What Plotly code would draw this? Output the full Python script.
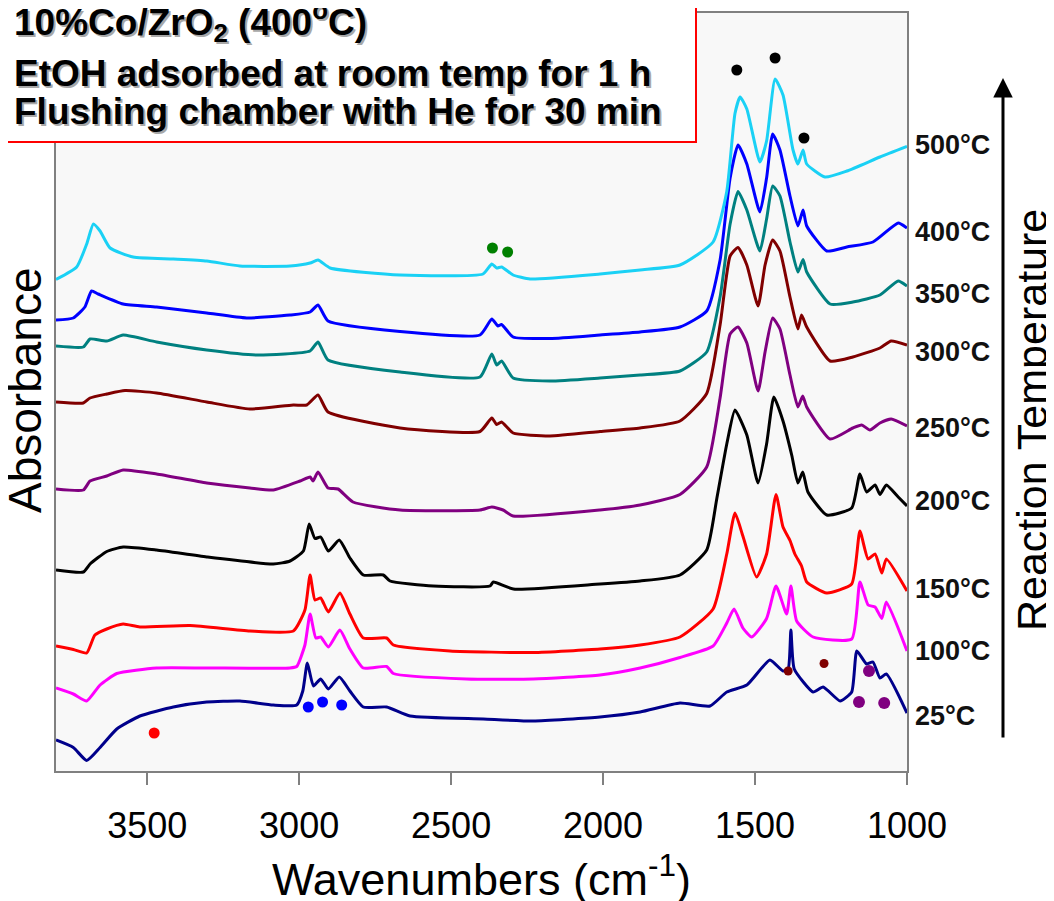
import plotly.graph_objects as go

# ---- data: wavenumber (cm-1) and absorbance (a.u., stacked) for each temperature ----
wn_25 = [3800, 3743, 3699, 3655, 3600, 3524, 3414, 3304, 3195, 3085, 3008, 2988, 2973, 2953, 2929, 2904, 2868, 2833, 2789, 2712, 2635, 2394, 2230, 2010, 1878, 1747, 1648, 1593, 1527, 1451, 1408, 1391, 1382, 1371, 1309, 1276, 1220, 1182, 1165, 1133, 1112, 1089, 1068, 1000]
ab_25 = [0.31, 0.235, 0.105, 0.235, 0.42, 0.55, 0.64, 0.69, 0.70, 0.66, 0.66, 0.80, 1.08, 0.85, 0.92, 0.82, 0.94, 0.80, 0.64, 0.64, 0.55, 0.52, 0.50, 0.54, 0.59, 0.68, 0.65, 0.79, 0.86, 1.11, 1.00, 1.02, 1.41, 1.02, 0.79, 0.84, 0.70, 0.79, 1.20, 1.07, 1.09, 0.93, 0.97, 0.58]

wn_100 = [3800, 3743, 3699, 3655, 3600, 3469, 3304, 3030, 3008, 2981, 2964, 2945, 2929, 2904, 2866, 2833, 2789, 2712, 2690, 2449, 2230, 2010, 1878, 1747, 1638, 1593, 1569, 1540, 1511, 1462, 1431, 1396, 1382, 1363, 1309, 1182, 1155, 1128, 1105, 1083, 1068, 1000]
ab_100 = [0.83, 0.77, 0.70, 0.86, 0.975, 1.03, 1.03, 1.03, 1.045, 1.26, 1.57, 1.33, 1.34, 1.24, 1.41, 1.22, 1.03, 1.045, 0.975, 0.92, 0.92, 0.96, 1.03, 1.135, 1.25, 1.48, 1.62, 1.43, 1.34, 1.525, 1.85, 1.57, 1.85, 1.50, 1.34, 1.32, 1.89, 1.66, 1.64, 1.525, 1.69, 1.20]

wn_150 = [3800, 3743, 3699, 3672, 3633, 3579, 3524, 3359, 3162, 3019, 2981, 2964, 2948, 2929, 2904, 2866, 2833, 2789, 2712, 2690, 2504, 2230, 2010, 1878, 1747, 1638, 1593, 1566, 1540, 1495, 1462, 1431, 1408, 1385, 1369, 1347, 1330, 1264, 1182, 1155, 1128, 1105, 1083, 1068, 1000]
ab_150 = [1.25, 1.215, 1.18, 1.36, 1.42, 1.47, 1.44, 1.455, 1.40, 1.40, 1.61, 1.96, 1.71, 1.73, 1.59, 1.78, 1.57, 1.33, 1.33, 1.26, 1.20, 1.185, 1.22, 1.26, 1.34, 1.62, 2.17, 2.58, 2.35, 1.94, 2.17, 2.765, 2.44, 2.305, 2.17, 2.05, 1.89, 1.78, 1.87, 2.40, 2.12, 2.17, 1.98, 2.12, 1.80]

wn_200 = [3800, 3710, 3688, 3633, 3579, 3469, 3304, 3085, 3030, 2986, 2967, 2948, 2929, 2904, 2868, 2833, 2789, 2723, 2701, 2559, 2372, 2361, 2295, 2010, 1878, 1747, 1659, 1626, 1593, 1566, 1527, 1490, 1462, 1438, 1408, 1379, 1359, 1343, 1326, 1264, 1182, 1155, 1133, 1105, 1089, 1068, 1029, 1000]
ab_200 = [2.01, 1.99, 2.07, 2.195, 2.24, 2.21, 2.14, 2.07, 2.10, 2.20, 2.47, 2.325, 2.34, 2.20, 2.31, 2.13, 1.96, 1.96, 1.90, 1.85, 1.85, 1.89, 1.82, 1.87, 1.90, 1.96, 2.21, 2.72, 3.27, 3.61, 3.36, 2.88, 3.27, 3.74, 3.50, 3.155, 2.88, 2.99, 2.79, 2.56, 2.63, 2.97, 2.79, 2.86, 2.765, 2.86, 2.74, 2.65]

wn_250 = [3800, 3710, 3688, 3633, 3579, 3469, 3304, 3162, 3085, 2997, 2964, 2954, 2938, 2905, 2872, 2823, 2668, 2405, 2366, 2329, 2296, 2010, 1878, 1747, 1659, 1615, 1582, 1556, 1527, 1490, 1467, 1442, 1418, 1385, 1359, 1343, 1330, 1253, 1178, 1149, 1122, 1089, 1052, 1000]
ab_250 = [2.82, 2.81, 2.90, 2.95, 3.01, 2.97, 2.88, 2.83, 2.81, 2.90, 2.94, 2.90, 2.99, 2.83, 2.82, 2.69, 2.61, 2.61, 2.64, 2.61, 2.55, 2.61, 2.66, 2.765, 3.04, 3.73, 4.37, 4.44, 4.28, 3.80, 4.19, 4.53, 4.42, 3.96, 3.64, 3.75, 3.64, 3.32, 3.43, 3.46, 3.41, 3.48, 3.52, 3.45]

wn_300 = [3800, 3710, 3688, 3633, 3573, 3469, 3304, 3162, 3019, 2975, 2938, 2905, 2668, 2405, 2366, 2350, 2334, 2296, 2175, 2010, 1878, 1747, 1659, 1615, 1582, 1556, 1527, 1490, 1467, 1442, 1418, 1385, 1359, 1347, 1330, 1253, 1178, 1089, 1052, 1000]
ab_300 = [3.69, 3.68, 3.73, 3.77, 3.805, 3.78, 3.69, 3.62, 3.66, 3.66, 3.76, 3.59, 3.43, 3.395, 3.53, 3.465, 3.49, 3.38, 3.35, 3.395, 3.43, 3.50, 3.775, 4.46, 5.15, 5.235, 5.06, 4.65, 5.06, 5.31, 5.20, 4.74, 4.42, 4.56, 4.44, 4.10, 4.14, 4.23, 4.30, 4.26]

wn_350 = [3800, 3710, 3688, 3633, 3579, 3469, 3304, 3140, 2964, 2938, 2905, 2668, 2405, 2366, 2350, 2334, 2296, 2175, 2010, 1878, 1747, 1659, 1615, 1582, 1556, 1527, 1484, 1462, 1442, 1418, 1385, 1359, 1342, 1330, 1253, 1178, 1089, 1029, 1000]
ab_350 = [4.25, 4.24, 4.32, 4.30, 4.36, 4.29, 4.21, 4.16, 4.20, 4.29, 4.11, 3.99, 3.94, 4.17, 4.06, 4.10, 3.93, 3.90, 3.93, 3.96, 4.00, 4.19, 4.74, 5.47, 5.795, 5.61, 5.20, 5.52, 5.85, 5.75, 5.29, 4.99, 5.115, 4.99, 4.67, 4.69, 4.76, 4.90, 4.85]

wn_400 = [3800, 3743, 3705, 3683, 3661, 3579, 3469, 3304, 3173, 3030, 2964, 2938, 2905, 2668, 2405, 2366, 2346, 2334, 2296, 2175, 2010, 1878, 1747, 1659, 1615, 1582, 1556, 1527, 1484, 1462, 1442, 1418, 1385, 1359, 1342, 1330, 1264, 1198, 1112, 1029, 1000]
ab_400 = [4.51, 4.53, 4.64, 4.80, 4.77, 4.67, 4.64, 4.58, 4.53, 4.56, 4.59, 4.66, 4.50, 4.395, 4.36, 4.52, 4.45, 4.465, 4.34, 4.325, 4.36, 4.39, 4.44, 4.60, 5.11, 5.93, 6.26, 6.07, 5.59, 5.93, 6.37, 6.21, 5.75, 5.45, 5.61, 5.45, 5.20, 5.24, 5.29, 5.48, 5.43]

wn_500 = [3800, 3732, 3699, 3677, 3655, 3622, 3546, 3414, 3304, 3195, 3030, 2964, 2938, 2898, 2668, 2395, 2366, 2350, 2334, 2296, 2240, 2010, 1878, 1747, 1638, 1593, 1566, 1549, 1527, 1484, 1462, 1434, 1408, 1375, 1359, 1342, 1330, 1270, 1198, 1089, 1000]
ab_500 = [4.915, 5.04, 5.27, 5.47, 5.40, 5.23, 5.14, 5.12, 5.10, 5.05, 5.05, 5.08, 5.11, 5.03, 4.96, 4.97, 5.07, 5.03, 5.04, 4.96, 4.92, 4.97, 5.01, 5.06, 5.29, 5.795, 6.575, 6.74, 6.62, 6.09, 6.30, 6.92, 6.76, 6.21, 6.07, 6.21, 6.07, 5.94, 6.00, 6.14, 6.245]

temps = ["25°C", "100°C", "150°C", "200°C", "250°C", "300°C", "350°C", "400°C", "500°C"]
colors = ["#00008B", "#FF00FF", "#FF0000", "#000000", "#800080", "#800000", "#008080", "#0000FF", "#1AD1F5"]
series_wn = [wn_25, wn_100, wn_150, wn_200, wn_250, wn_300, wn_350, wn_400, wn_500]
series_ab = [ab_25, ab_100, ab_150, ab_200, ab_250, ab_300, ab_350, ab_400, ab_500]

# peak marker dots (wavenumber, absorbance)
dot_black_wn = [1560, 1434, 1339]
dot_black_ab = [7.01, 7.13, 6.33]
dot_green_wn = [2364, 2314]
dot_green_ab = [5.23, 5.19]
dot_blue_wn = [2970, 2923, 2860]
dot_blue_ab = [0.64, 0.69, 0.66]
dot_red_wn = [3477]
dot_red_ab = [0.38]
dot_maroon_wn = [1391, 1273]
dot_maroon_ab = [1.00, 1.075]
dot_purple_wn = [1125, 1158, 1075]
dot_purple_ab = [1.00, 0.69, 0.68]

xticks = [3500, 3000, 2500, 2000, 1500, 1000]

# label vertical positions (paper fractions) for temperature labels
label_y = [0.0726, 0.1577, 0.2401, 0.3562, 0.4525, 0.5528, 0.6293, 0.7111, 0.8259]

FONT = "Liberation Sans, Arial, sans-serif"
OFF = 8  # page body margin offset

fig = go.Figure()
for wn, ab, c, t in zip(series_wn, series_ab, colors, temps):
    fig.add_trace(go.Scatter(x=wn, y=ab, mode="lines", name=t,
                             line=dict(color=c, width=3, shape="spline", smoothing=0.5),
                             showlegend=False, hoverinfo="skip"))

for xs, ys, c, s in [(dot_black_wn, dot_black_ab, "#000000", 11),
                     (dot_green_wn, dot_green_ab, "#008000", 11),
                     (dot_blue_wn, dot_blue_ab, "#0000FF", 11),
                     (dot_red_wn, dot_red_ab, "#FF0000", 11),
                     (dot_maroon_wn, dot_maroon_ab, "#800000", 9),
                     (dot_purple_wn, dot_purple_ab, "#800080", 12)]:
    fig.add_trace(go.Scatter(x=xs, y=ys, mode="markers",
                             marker=dict(color=c, size=s, line=dict(width=0)),
                             showlegend=False, hoverinfo="skip"))

annotations = []
for t, yp in zip(temps, label_y):
    annotations.append(dict(xref="paper", yref="paper", x=1.0071, y=yp, text=t,
                            showarrow=False, xanchor="left", yanchor="middle",
                            font=dict(family=FONT, size=27, color="#111111", weight="bold")))

# axis titles
annotations.append(dict(xref="paper", yref="paper", x=0.5, y=(771 - 876) / 758,
                        text="Wavenumbers (cm<sup>-1</sup>)", showarrow=False,
                        xanchor="center", yanchor="middle",
                        font=dict(family=FONT, size=45, color="#000000")))
annotations.append(dict(xref="paper", yref="paper", x=(25 - 56) / 851, y=0.5026,
                        text="Absorbance", showarrow=False, textangle=-90,
                        xanchor="center", yanchor="middle",
                        font=dict(family=FONT, size=46, color="#000000")))
annotations.append(dict(xref="paper", yref="paper", x=1.1469, y=(771 - 420) / 758,
                        text="Reaction Temperature", showarrow=False, textangle=-90,
                        xanchor="center", yanchor="middle",
                        font=dict(family=FONT, size=43, color="#000000")))
# arrow
annotations.append(dict(xref="paper", yref="paper", x=1.1128, y=0.9142, text="",
                        showarrow=True, ax=0, ay=661, arrowhead=2, arrowsize=1.3,
                        arrowwidth=3, arrowcolor="#000000"))

# title box text with shadow
title_lines = ["10%Co/ZrO<sub>2</sub> (400<sup>o</sup>C)",
               "EtOH adsorbed at room temp for 1 h",
               "Flushing chamber with He for 30 min"]
title_py = [21, 74, 111]
for line, py in zip(title_lines, title_py):
    yp = (771 - py) / 758
    xp = (12 - 56) / 851
    annotations.append(dict(xref="paper", yref="paper", x=xp, y=yp, xshift=2, yshift=-2,
                            text=line, showarrow=False, xanchor="left", yanchor="middle",
                            font=dict(family=FONT, size=37, color="#A8A8A8", weight="bold")))
    annotations.append(dict(xref="paper", yref="paper", x=xp, y=yp,
                            text=line, showarrow=False, xanchor="left", yanchor="middle",
                            font=dict(family=FONT, size=37, color="#000000", weight="bold")))

shapes = [dict(type="rect", xref="paper", yref="paper",
               x0=(-12 - 56) / 851, x1=(696 - 56) / 851,
               y0=(771 - 142) / 758, y1=(771 + 12) / 758,
               line=dict(color="#FF0000", width=2), fillcolor="#FFFFFF", layer="above")]

fig.update_layout(
    width=1054 - OFF, height=901 - OFF,
    margin=dict(l=56 - OFF, r=147, t=13 - OFF, b=130, autoexpand=False),
    paper_bgcolor="#FFFFFF", plot_bgcolor="#F8F8F8",
    font=dict(family=FONT, color="#000000"),
    annotations=annotations, shapes=shapes,
    xaxis=dict(range=[3800, 1000], tickmode="array", tickvals=xticks,
               ticktext=[str(v) for v in xticks],
               ticks="outside", ticklen=12, tickwidth=2, tickcolor="#808080",
               showline=True, linecolor="#808080", linewidth=2, mirror=True,
               showgrid=False, zeroline=False,
               tickfont=dict(family=FONT, size=36, color="#000000"),
               ticklabelstandoff=10),
    yaxis=dict(range=[0, 7.58], showticklabels=False, ticks="",
               showline=True, linecolor="#808080", linewidth=2, mirror=True,
               showgrid=False, zeroline=False),
)

fig.write_html("out.html")
